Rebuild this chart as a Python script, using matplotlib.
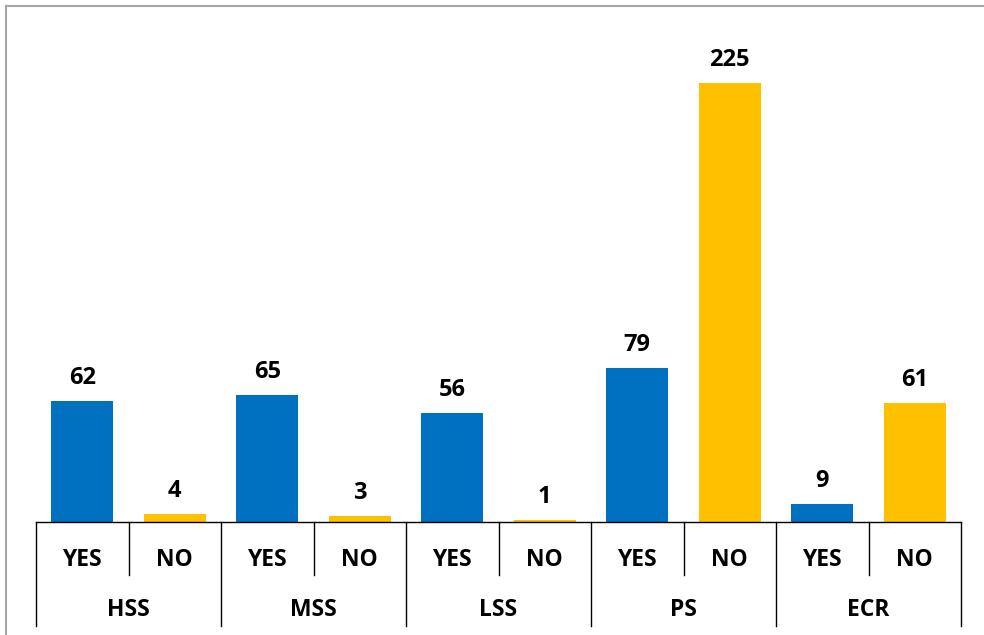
import matplotlib
matplotlib.use('Agg')
import matplotlib.pyplot as plt
from matplotlib.lines import Line2D

# data
groups = ['HSS', 'MSS', 'LSS', 'PS', 'ECR']
answers = ['YES', 'NO']
yes_vals = [62, 65, 56, 79, 9]
no_vals = [4, 3, 1, 225, 61]

BLUE = '#0070C0'
GOLD = '#FFC000'

plt.rcParams['font.family'] = ['Open Sans', 'DejaVu Sans']

fig = plt.figure(figsize=(9.84, 6.35), dpi=100)
ax = fig.add_axes([36 / 984, 113 / 635, 925 / 984, 488 / 635])

vals = []
cols = []
for y, n in zip(yes_vals, no_vals):
    vals += [y, n]
    cols += [BLUE, GOLD]
x = list(range(len(vals)))

bars = ax.bar(x, vals, width=0.67, color=cols)
for b, v in zip(bars, vals):
    ax.annotate(str(v), (b.get_x() + b.get_width() / 2, v),
                xytext=(0, 8), textcoords='offset points',
                ha='center', va='bottom', fontsize=17, fontweight='bold')

ax.set_xlim(-0.5, len(vals) - 0.5)
ax.set_ylim(0, 250)
ax.set_yticks([])
ax.set_xticks([])
for s in ['top', 'right', 'left']:
    ax.spines[s].set_visible(False)
ax.spines['bottom'].set_color('#000000')
ax.spines['bottom'].set_linewidth(1)

# multi-level category axis
trans = ax.get_xaxis_transform()
h = 488.0
inner_y = -53 / h
outer_y = -104 / h
for i in range(len(vals) + 1):
    yb = outer_y if i % 2 == 0 else inner_y
    ax.add_line(Line2D([i - 0.5, i - 0.5], [0, yb], transform=trans,
                       color='#000000', lw=1, clip_on=False))
for i in range(len(vals)):
    ax.text(i, -38 / h, answers[i % 2], transform=trans, ha='center',
            va='center', fontsize=16.5, fontweight='bold')
for g, name in enumerate(groups):
    ax.text(2 * g + 0.5, -88 / h, name, transform=trans, ha='center',
            va='center', fontsize=16.5, fontweight='bold')

# chart border (top and left visible)
fig.add_artist(Line2D([6 / 984, 6 / 984], [0, 1 - 6 / 635],
                      transform=fig.transFigure, color='#A6A6A6', lw=1.5))
fig.add_artist(Line2D([6 / 984, 1], [1 - 6 / 635, 1 - 6 / 635],
                      transform=fig.transFigure, color='#A6A6A6', lw=1.5))

fig.savefig('out.png', dpi=100)
